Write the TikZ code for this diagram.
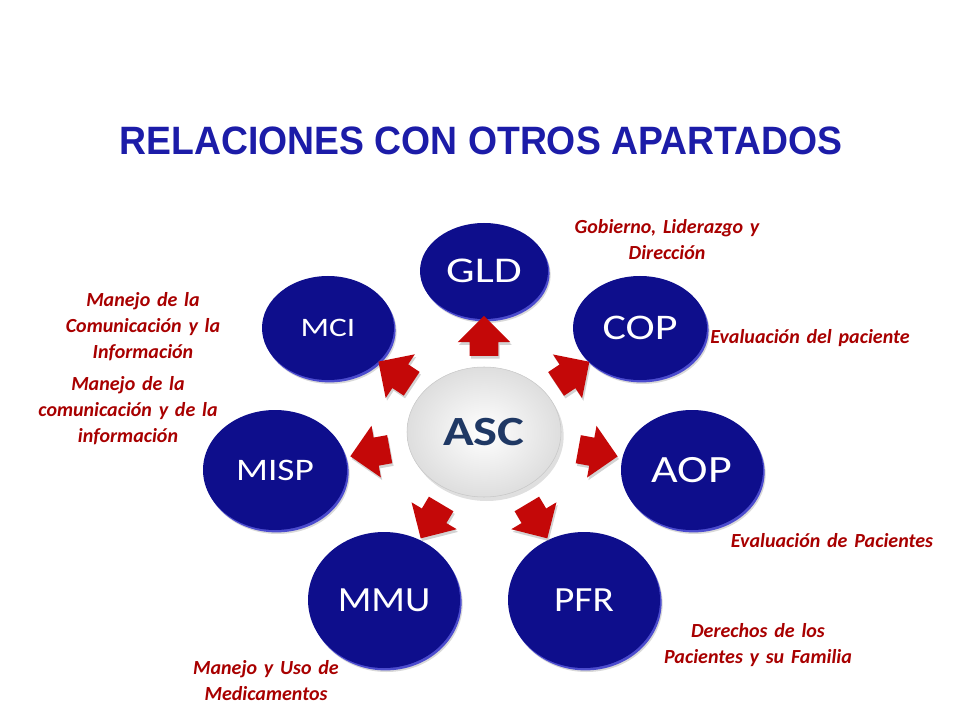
\documentclass[tikz,border=0pt]{standalone}
\usepackage{fontspec}
\usetikzlibrary{shapes.geometric,shapes.arrows,shadows}
\newfontfamily\discfont{Carlito}
\newfontfamily\labfont[WordSpace=1.5]{Carlito}
\newfontfamily\titlefont{Liberation Sans}
\definecolor{discblue}{RGB}{14,14,140}
\definecolor{rimblue}{RGB}{75,75,205}
\definecolor{labred}{RGB}{168,0,0}
\definecolor{arrred}{RGB}{196,8,8}
\definecolor{titleblue}{RGB}{28,28,168}
\definecolor{ascnavy}{RGB}{31,56,100}
\begin{document}
\begin{tikzpicture}[x=0.75pt,y=-0.75pt,
	disc/.style={ellipse,inner sep=0pt,fill=discblue,text=white,
		drop shadow={shadow xshift=2pt,shadow yshift=-3pt,opacity=0.3},
		preaction={fill=rimblue,transform canvas={xshift=1.2pt,yshift=-1.8pt}}},
	disctext/.style={font=\discfont\fontsize{#1}{#1}\selectfont},
	lab/.style={text=labred,align=center,font=\labfont\bfseries\itshape\fontsize{15}{19.5}\selectfont},
	arrowbox/.style={single arrow,fill=arrred,inner xsep=0pt,inner ysep=10.5pt,
		minimum height=30pt,single arrow head extend=9pt,single arrow head indent=0pt,
		sloped,allow upside down,
		drop shadow={shadow xshift=1pt,shadow yshift=-2pt,opacity=0.35}}]
	\useasboundingbox (0,0) rectangle (960,720);
	\node[font=\titlefont\bfseries\fontsize{28}{30}\selectfont,text=titleblue,anchor=base] (title) at (481,155) {\scalebox{1}[1.06]{RELACIONES CON OTROS APARTADOS}};
	\node[ellipse,minimum width=115.5pt,minimum height=97.5pt,inner sep=0pt,
		inner color=white,outer color=black!13,draw=black!22,
		drop shadow={shadow xshift=2pt,shadow yshift=-3pt,opacity=0.25},
		font=\discfont\bfseries\fontsize{38}{38}\selectfont,text=ascnavy] (ASC) at (484,432) {\scalebox{1}[0.82]{ASC}};
	\node[disc,minimum width=96pt,minimum height=72pt,disctext=34] (GLD) at (484,271) {\scalebox{1}[0.8]{GLD}};
	\node[disc,minimum width=100.5pt,minimum height=78pt,disctext=33] (COP) at (640,328) {\scalebox{1}[0.82]{COP}};
	\node[disc,minimum width=106.5pt,minimum height=90pt,disctext=34.5] (AOP) at (692,470) {\scalebox{1}[0.84]{AOP}};
	\node[disc,minimum width=114pt,minimum height=102pt,disctext=29.5] (PFR) at (584,600) {\scalebox{1}[0.9]{PFR}};
	\node[disc,minimum width=114pt,minimum height=102pt,disctext=29.5] (MMU) at (384,600) {\scalebox{1}[0.9]{MMU}};
	\node[disc,minimum width=108pt,minimum height=90pt,disctext=28] (MISP) at (275,470) {\scalebox{1}[0.84]{MISP}};
	\node[disc,minimum width=99pt,minimum height=78pt,disctext=25] (MCI) at (328,328) {\scalebox{1}[0.8]{MCI}};
	\foreach \n in {GLD,COP,AOP,PFR,MMU,MISP,MCI}
		\path (ASC) -- (\n) node[arrowbox,pos=0.5] {};
	\node[lab] (lGLD) at (667,240) {Gobierno, Liderazgo y\\Dirección};
	\node[lab] (lCOP) at (810,338) {Evaluación del paciente};
	\node[lab] (lAOP) at (832,541) {Evaluación de Pacientes};
	\node[lab] (lPFR) at (758,645) {Derechos de los\\Pacientes y su Familia};
	\node[lab] (lMMU) at (266,681) {Manejo y Uso de\\Medicamentos};
	\node[lab] (lMCI) at (143,327) {Manejo de la\\Comunicación y la\\Información};
	\node[lab] (lMISP) at (128,411) {Manejo de la\\comunicación y de la\\información};
\end{tikzpicture}
\end{document}
